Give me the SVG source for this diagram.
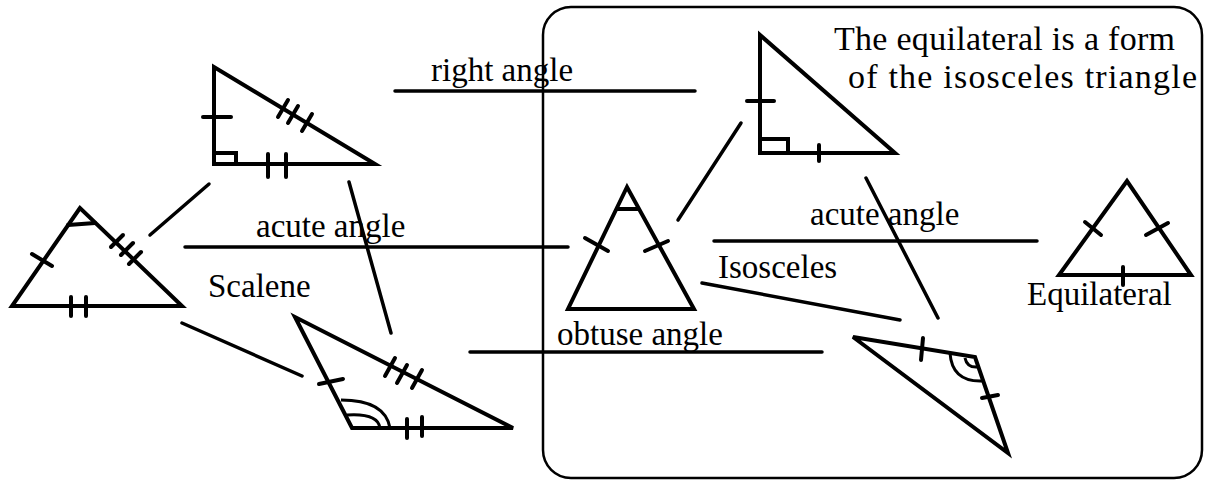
<svg xmlns="http://www.w3.org/2000/svg" width="1206" height="482" viewBox="0 0 1206 482">
<style>
.tri{fill:none;stroke:#000;stroke-width:4;stroke-linejoin:miter}
.mk{fill:none;stroke:#000;stroke-width:4;stroke-linecap:round}
.arc{fill:none;stroke:#000;stroke-width:3}
.con{stroke:#000;stroke-width:3.5;stroke-linecap:round}
.box{fill:none;stroke:#000;stroke-width:2.5}
text{font-family:"Liberation Serif","Times New Roman",serif;font-size:33px;fill:#000}
.bt{font-size:34px}
</style>
<rect id="isosceles-box" class="box" x="543" y="7" width="659" height="471" rx="28"/>
<g id="connectors">
<line class="con" x1="150" y1="235" x2="209" y2="184"/>
<line class="con" x1="185" y1="247" x2="568" y2="247"/>
<line class="con" x1="395" y1="91" x2="695" y2="91"/>
<line class="con" x1="182" y1="323" x2="302" y2="376"/>
<line class="con" x1="349" y1="182" x2="391" y2="333"/>
<line class="con" x1="470" y1="352" x2="822" y2="352"/>
<line class="con" x1="678" y1="220" x2="741" y2="123"/>
<line class="con" x1="702" y1="283" x2="900" y2="320"/>
<line class="con" x1="866" y1="178" x2="938" y2="318"/>
<line class="con" x1="714" y1="241" x2="1037" y2="241"/>
</g>
<g id="labels">
<text x="431" y="81">right angle</text>
<text x="256" y="237">acute angle</text>
<text x="208" y="297">Scalene</text>
<text x="557" y="345">obtuse angle</text>
<text x="810" y="225">acute angle</text>
<text x="718" y="278">Isosceles</text>
<text x="1027" y="305">Equilateral</text>
<text class="bt" x="834" y="50" textLength="341" lengthAdjust="spacing">The equilateral is a form</text>
<text class="bt" x="848" y="88" textLength="349" lengthAdjust="spacing">of the isosceles triangle</text>
</g>
<g id="tri-left-acute">
<polygon class="tri" points="80,208 12,306 182,306"/>
<line class="mk" x1="68" y1="225" x2="95" y2="223"/>
<line class="mk" x1="32" y1="254" x2="52" y2="266"/>
<line class="mk" x1="111" y1="247" x2="123" y2="235"/>
<line class="mk" x1="121" y1="255" x2="133" y2="243"/>
<line class="mk" x1="129" y1="264" x2="141" y2="252"/>
<line class="mk" x1="71" y1="297" x2="71" y2="316"/>
<line class="mk" x1="86" y1="297" x2="86" y2="316"/>
</g>
<g id="tri-top-right">
<polygon class="tri" points="214,67 214,164 375,164"/>
<polyline class="mk" points="214,153 236,153 236,164"/>
<line class="mk" x1="203" y1="117" x2="231" y2="117"/>
<line class="mk" x1="278" y1="117" x2="288" y2="100"/>
<line class="mk" x1="288" y1="123" x2="298" y2="106"/>
<line class="mk" x1="302" y1="131" x2="312" y2="114"/>
<line class="mk" x1="268" y1="154" x2="268" y2="177"/>
<line class="mk" x1="286" y1="154" x2="286" y2="177"/>
</g>
<g id="tri-bottom-obtuse">
<polygon class="tri" points="295,317 352,428 513,428"/>
<line class="mk" x1="319" y1="384" x2="343" y2="379"/>
<line class="mk" x1="385" y1="376" x2="395" y2="358"/>
<line class="mk" x1="397" y1="383" x2="407" y2="365"/>
<line class="mk" x1="412" y1="388" x2="422" y2="370"/>
<line class="mk" x1="407" y1="419" x2="407" y2="438"/>
<line class="mk" x1="422" y1="417" x2="422" y2="436"/>
<path class="arc" d="M341 400 Q385 400 390 428"/>
<path class="arc" d="M347 415 Q378 413 380 428"/>
</g>
<g id="tri-middle-isosceles">
<polygon class="tri" points="627,187 568,309 694,309"/>
<line class="mk" x1="617" y1="209" x2="638" y2="209"/>
<line class="mk" x1="585" y1="238" x2="608" y2="251"/>
<line class="mk" x1="645" y1="251" x2="668" y2="241"/>
</g>
<g id="tri-right-isosceles">
<polygon class="tri" points="760,35 760,153 895,153"/>
<polyline class="mk" points="760,139 788,139 788,153"/>
<line class="mk" x1="747" y1="101" x2="774" y2="101"/>
<line class="mk" x1="819" y1="145" x2="819" y2="161"/>
</g>
<g id="tri-obtuse-isosceles">
<polygon class="tri" points="853,337 975,357 1008,453"/>
<line class="mk" x1="923" y1="338" x2="921" y2="360"/>
<line class="mk" x1="982" y1="398" x2="998" y2="395"/>
<path class="arc" d="M950 353 Q952 382 982 381"/>
<path class="arc" d="M965 358 Q967 368 978 367"/>
</g>
<g id="tri-equilateral">
<polygon class="tri" points="1127,181 1059,275 1191,275"/>
<line class="mk" x1="1085" y1="222" x2="1101" y2="235"/>
<line class="mk" x1="1146" y1="235" x2="1168" y2="223"/>
<line class="mk" x1="1123" y1="267" x2="1123" y2="285"/>
</g>
</svg>
